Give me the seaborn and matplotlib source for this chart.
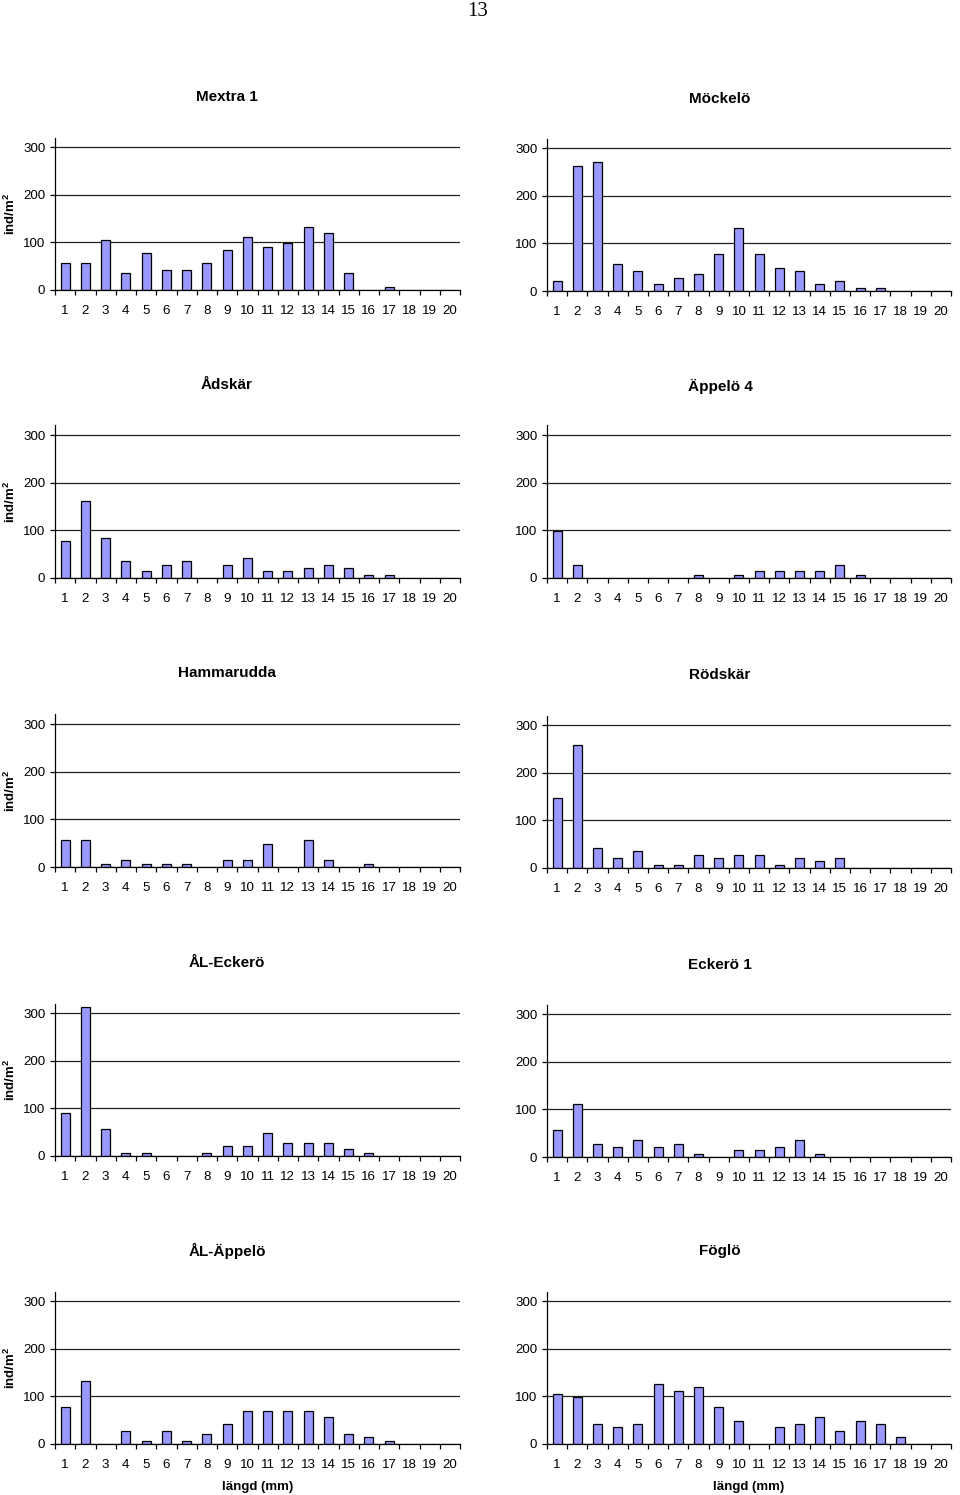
import numpy as np
import pandas as pd
import matplotlib
matplotlib.use("Agg")
import matplotlib.pyplot as plt
import seaborn as sns

# ---------------- data ----------------
lengths = [str(i) for i in range(1, 21)]

mextra1 = [56, 56, 105, 35, 77, 42, 42, 56, 84, 112, 91, 98, 133, 119, 35, 0, 7, 0, 0, 0]
mockelo = [21, 263, 270, 56, 42, 14, 28, 35, 77, 133, 77, 49, 42, 14, 21, 7, 7, 0, 0, 0]
adskar = [77, 161, 84, 35, 14, 28, 35, 0, 28, 42, 14, 14, 21, 28, 21, 7, 7, 0, 0, 0]
appelo4 = [98, 28, 0, 0, 0, 0, 0, 7, 0, 7, 14, 14, 14, 14, 28, 7, 0, 0, 0, 0]
hammarudda = [56, 56, 7, 14, 7, 7, 7, 0, 14, 14, 49, 0, 56, 14, 0, 7, 0, 0, 0, 0]
rodskar = [147, 259, 42, 21, 35, 7, 7, 28, 21, 28, 28, 7, 21, 14, 21, 0, 0, 0, 0, 0]
al_eckero = [91, 312, 56, 7, 7, 0, 0, 7, 21, 21, 49, 28, 28, 28, 14, 7, 0, 0, 0, 0]
eckero1 = [56, 112, 28, 21, 35, 21, 28, 7, 0, 14, 14, 21, 35, 7, 0, 0, 0, 0, 0, 0]
al_appelo = [77, 133, 0, 28, 7, 28, 7, 21, 42, 70, 70, 70, 70, 56, 21, 14, 7, 0, 0, 0]
foglo = [105, 98, 42, 35, 42, 126, 112, 119, 77, 49, 0, 35, 42, 56, 28, 49, 42, 14, 0, 0]

titles = ["Mextra 1", "Möckelö", "Ådskär", "Äppelö 4", "Hammarudda",
          "Rödskär", "ÅL-Eckerö", "Eckerö 1", "ÅL-Äppelö", "Föglö"]
series = [mextra1, mockelo, adskar, appelo4, hammarudda,
          rodskar, al_eckero, eckero1, al_appelo, foglo]
y_ticks = [0, 100, 200, 300]
y_label = "ind/m$^{\\mathbf{2}}$"
x_label = "längd (mm)"
page_number = "13"

# ---------------- style ----------------
sns.set_style("white")
plt.rcParams['font.family'] = ['Liberation Sans', 'DejaVu Sans']
plt.rcParams['mathtext.fontset'] = 'custom'
plt.rcParams['mathtext.rm'] = 'Liberation Sans'
plt.rcParams['mathtext.bf'] = 'Liberation Sans:bold'
plt.rcParams['text.color'] = 'black'
plt.rcParams['xtick.color'] = 'black'
plt.rcParams['ytick.color'] = 'black'
plt.rcParams['axes.labelcolor'] = 'black'

W, H = 960, 1495
fig = plt.figure(figsize=(W / 100, H / 100), dpi=100)

bar_color = "#9999FF"
left_x = [55, 547]
ax_w = [405, 404]
zero_y = [[290, 291], [578, 578], [867, 868], [1156, 1157], [1444, 1444]]
title_y = [[97, 99], [385, 386], [673, 675], [963, 965], [1251, 1251]]
title_x = [227, 720]
ax_h = 152.5
tick_fs = 9.6

for i, (ttl, vals) in enumerate(zip(titles, series)):
    row, col = divmod(i, 2)
    y0 = zero_y[row][col]
    ax = fig.add_axes([left_x[col] / W, 1 - y0 / H, ax_w[col] / W, ax_h / H])
    df = pd.DataFrame({"len": lengths, "val": vals})
    sns.barplot(data=df, x="len", y="val", order=lengths, ax=ax,
                color=bar_color, edgecolor="black", linewidth=0.9,
                width=0.45, saturation=1)
    for p in ax.patches:
        if p.get_height() == 0:
            p.set_linewidth(0)
    ax.set_xlim(-0.5, 19.5)
    ax.set_ylim(0, 320)
    ax.set_yticks(y_ticks)
    ax.set_yticklabels([str(t) for t in y_ticks], fontsize=tick_fs)
    ax.yaxis.grid(True, color="#222222", linewidth=0.9)
    ax.set_axisbelow(True)
    ax.set_xlabel("")
    ax.set_ylabel("")
    ax.set_xticks(range(20))
    ax.set_xticklabels(lengths, fontsize=tick_fs)
    ax.set_xticks(np.arange(-0.5, 20, 1), minor=True)
    ax.tick_params(axis="x", which="major", bottom=True, length=0, pad=11)
    ax.tick_params(axis="x", which="minor", bottom=True, length=3.5, width=0.9,
                   color="black", direction="out")
    ax.tick_params(axis="y", which="major", left=True, length=3.5, width=0.9,
                   color="black", direction="out", pad=3.5)
    for s in ["top", "right"]:
        ax.spines[s].set_visible(False)
    for s in ["left", "bottom"]:
        ax.spines[s].set_color("black")
        ax.spines[s].set_linewidth(0.9)

    fig.text(title_x[col] / W, 1 - title_y[row][col] / H, ttl,
             ha="center", va="center", fontsize=11, fontweight="bold")
    if col == 0:
        fig.text(10 / W, 1 - (y0 - ax_h / 2) / H, y_label, rotation=90,
                 ha="center", va="center", fontsize=9.5, fontweight="bold")
    if row == 4:
        fig.text((left_x[col] + ax_w[col] / 2) / W, 1 - 1487 / H, x_label,
                 ha="center", va="center", fontsize=9.5, fontweight="bold")

fig.text(478 / W, 1 - 11 / H, page_number, ha="center", va="center",
         fontsize=15, family="Liberation Serif")

fig.savefig("out.png", dpi=100)
